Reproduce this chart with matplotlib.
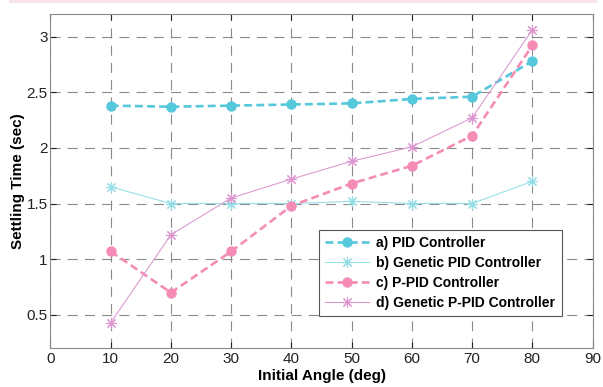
import matplotlib
matplotlib.use("Agg")
import matplotlib.pyplot as plt

plt.rcParams['font.family'] = ['Liberation Sans', 'DejaVu Sans']

angles = [10, 20, 30, 40, 50, 60, 70, 80]
pid = [2.38, 2.37, 2.38, 2.39, 2.40, 2.44, 2.46, 2.78]
gen_pid = [1.65, 1.50, 1.50, 1.50, 1.52, 1.50, 1.50, 1.70]
ppid = [1.07, 0.70, 1.07, 1.48, 1.68, 1.84, 2.11, 2.92]
gen_ppid = [0.43, 1.22, 1.55, 1.72, 1.88, 2.01, 2.27, 3.06]
labels = ["a) PID Controller", "b) Genetic PID Controller",
          "c) P-PID Controller", "d) Genetic P-PID Controller"]

fig = plt.figure(figsize=(6.03, 3.87), dpi=100)
# thin pink strip at the top of the picture
fig.patches.append(plt.Rectangle((0.015, 0.991), 0.975, 0.009, transform=fig.transFigure,
                                 facecolor="#f6e4e6", edgecolor="none"))
ax = fig.add_axes([0.0837, 0.100, 0.899, 0.863])

star = (8, 2, 0)  # 8-armed asterisk like the MATLAB '*' marker
ax.plot(angles, pid, "--o", color="#55c8dc", lw=1.9, ms=6.5, dashes=(3, 1.6), label=labels[0])
ax.plot(angles, gen_pid, "-", marker=star, color="#93dde6", lw=0.75, ms=8, mew=0.8,
        label=labels[1])
ax.plot(angles, ppid, "--o", color="#f48cb6", lw=1.9, ms=6.5, dashes=(3, 1.6), label=labels[2])
ax.plot(angles, gen_ppid, "-", marker=star, color="#dc96d0", lw=0.75, ms=8, mew=0.8,
        label=labels[3])

ax.set_xlim(0, 90)
ax.set_ylim(0.2, 3.2)
ax.set_xticks(range(0, 91, 10))
ax.set_yticks([0.5, 1, 1.5, 2, 2.5, 3])
ax.set_yticklabels(["0.5", "1", "1.5", "2", "2.5", "3"])
ax.grid(True, color="#8a8a8a", linestyle=(0, (9, 6.5)), lw=0.8)
ax.tick_params(direction="in", top=True, right=True, labelsize=11, colors="#222222",
               length=4, pad=3)
ax.tick_params(axis="y", pad=2)
for s in ax.spines.values():
    s.set_color("#8a8a8a")
ax.set_xlabel("Initial Angle (deg)", fontsize=11, fontweight="bold", labelpad=2)
ax.set_ylabel("Settling Time (sec)", fontsize=11, fontweight="bold", labelpad=1)

leg = ax.legend(loc="lower right", bbox_to_anchor=(0.943, 0.097), fancybox=False,
                edgecolor="#555555", framealpha=1, handlelength=3.2, handletextpad=0.5,
                borderpad=0.45, labelspacing=0.42, borderaxespad=0,
                prop={"weight": "bold", "size": 10})
leg.get_frame().set_linewidth(0.8)

plt.savefig("out.png", dpi=100)
